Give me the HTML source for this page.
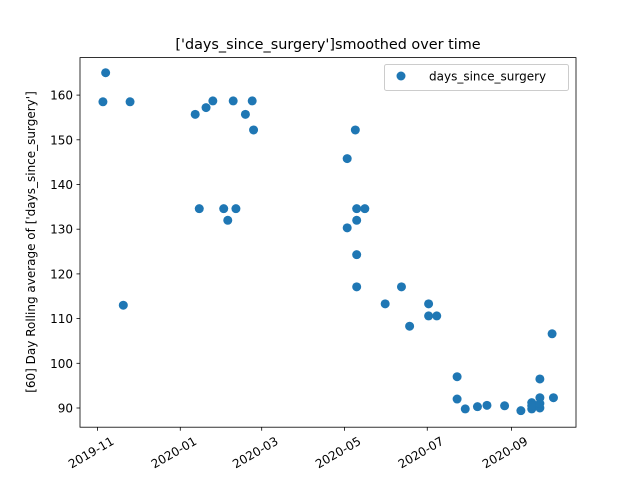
<!DOCTYPE html>
<html><head><meta charset="utf-8">
<style>
body{margin:0;background:#fff;font-family:"Liberation Sans","DejaVu Sans",sans-serif;}
svg text{font-family:"DejaVu Sans","Liberation Sans",sans-serif;}
</style></head>
<body>
<svg id="chart" width="640" height="480" viewBox="0 0 640 480">
<rect width="640" height="480" fill="#fff"/>
<text x="328" y="49" text-anchor="middle" font-size="14.4" fill="#000">['days_since_surgery']smoothed over time</text>
<g id="marks"></g>
<rect x="80" y="57.6" width="496" height="369.6" fill="none" stroke="#000" stroke-width="0.8"/>
<g id="xticks"></g>
<g id="yticks"></g>
<text transform="translate(35,242) rotate(-90)" text-anchor="middle" font-size="12">[60] Day Rolling average of ['days_since_surgery']</text>
<g>
<rect x="384.5" y="64.5" width="184" height="26" rx="2" fill="#fff" stroke="#ccc"/>
<circle cx="401" cy="76" r="4.5" fill="#1f77b4"/>
<text x="429" y="80.5" font-size="12">days_since_surgery</text>
</g>
</svg>
<script>
const dates=["2019-11-05","2019-11-07","2019-11-20","2019-11-25","2020-01-12","2020-01-15","2020-01-20","2020-01-25","2020-02-02","2020-02-05","2020-02-09","2020-02-11","2020-02-18","2020-02-23","2020-02-24","2020-05-03","2020-05-03","2020-05-09","2020-05-10","2020-05-10","2020-05-10","2020-05-10","2020-05-16","2020-05-31","2020-06-12","2020-06-18","2020-07-02","2020-07-02","2020-07-08","2020-07-23","2020-07-23","2020-07-29","2020-08-07","2020-08-14","2020-08-27","2020-09-08","2020-09-16","2020-09-16","2020-09-16","2020-09-22","2020-09-22","2020-09-22","2020-09-22","2020-10-01","2020-10-02"];
const values=[158.5,165,113,158.5,155.7,134.6,157.2,158.7,134.6,132,158.7,134.6,155.7,158.7,152.2,145.8,130.3,152.2,134.6,132,124.3,117.1,134.6,113.3,117.1,108.3,113.3,110.6,110.6,97,92,89.8,90.3,90.6,90.5,89.4,89.8,91.2,90.5,96.5,92.3,90,91,106.6,92.3];
const xTickLabels=["2019-11","2020-01","2020-03","2020-05","2020-07","2020-09"];
const yTickValues=[90,100,110,120,130,140,150,160];
const NS="http://www.w3.org/2000/svg";
const d0=Date.UTC(2019,10,1);
function day(s){const p=s.split("-");return (Date.UTC(+p[0],+p[1]-1,+p[2])-d0)/864e5;}
function xs(s){return 97.5+day(s)*1.357;}
function ys(v){return 408-(v-90)*4.47;}
const marks=document.getElementById("marks");
dates.forEach((d,i)=>{const c=document.createElementNS(NS,"circle");
c.setAttribute("cx",xs(d));c.setAttribute("cy",ys(values[i]));c.setAttribute("r",4.5);c.setAttribute("fill","#1f77b4");


marks.appendChild(c);});
const xg=document.getElementById("xticks");
xTickLabels.forEach(l=>{const x=xs(l+"-01");
const t=document.createElementNS(NS,"line");t.setAttribute("x1",x);t.setAttribute("x2",x);t.setAttribute("y1",427.2);t.setAttribute("y2",430.7);t.setAttribute("stroke","#000");t.setAttribute("stroke-width","0.8");


xg.appendChild(t);
const tx=document.createElementNS(NS,"text");tx.textContent=l;tx.setAttribute("font-size","12");tx.setAttribute("text-anchor","end");
tx.setAttribute("transform","translate("+(x+13)+",436) rotate(-30)");tx.setAttribute("dominant-baseline","hanging");


xg.appendChild(tx);});
const yg=document.getElementById("yticks");
yTickValues.forEach(v=>{const y=ys(v);
const t=document.createElementNS(NS,"line");t.setAttribute("x1",76.5);t.setAttribute("x2",80);t.setAttribute("y1",y);t.setAttribute("y2",y);t.setAttribute("stroke","#000");t.setAttribute("stroke-width","0.8");


yg.appendChild(t);
const tx=document.createElementNS(NS,"text");tx.textContent=v;tx.setAttribute("font-size","12");tx.setAttribute("text-anchor","end");tx.setAttribute("x",73);tx.setAttribute("y",y+4.5);


yg.appendChild(tx);});
</script>
</body></html>
